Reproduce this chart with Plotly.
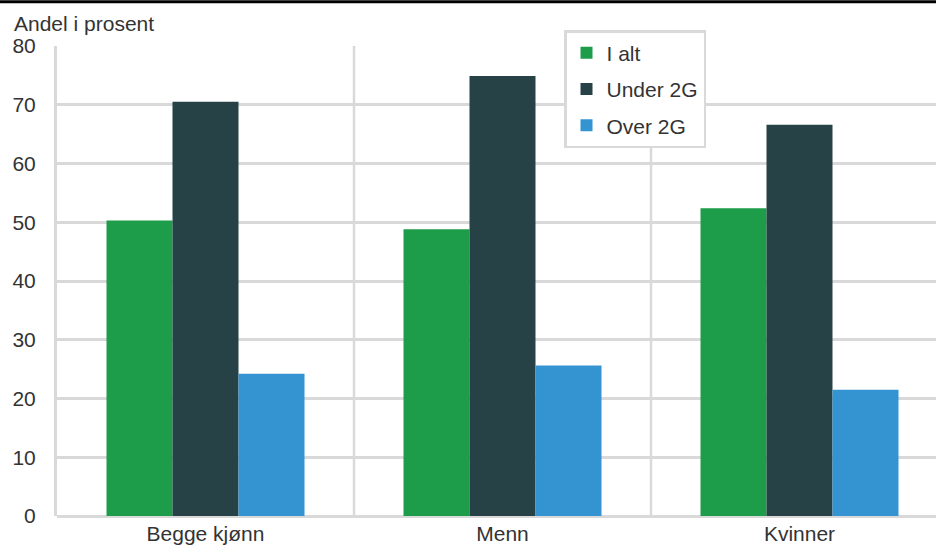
import plotly.graph_objects as go

categories = ["Begge kjønn", "Menn", "Kvinner"]
i_alt = [50.3, 48.8, 52.4]
under_2g = [70.5, 74.9, 66.6]
over_2g = [24.2, 25.6, 21.5]
series_names = ["I alt", "Under 2G", "Over 2G"]
colors = ["#1d9d4a", "#274247", "#3494d1"]

W, H = 936, 545
ml, mr, mt, mb = 57, 0, 46, 27
pw, ph = W - ml - mr, H - mt - mb
FS = 21

fig = go.Figure()
for name, vals, col in zip(series_names, [i_alt, under_2g, over_2g], colors):
    fig.add_trace(go.Bar(x=list(range(len(categories))), y=vals, name=name,
                         marker=dict(color=col, line=dict(width=0)),
                         legendgroup=name))

unit_px = 297.0
xmax = -0.5 + pw / unit_px

shapes = []
for xb in [0.5, 1.5]:
    shapes.append(dict(type="line", xref="x", yref="paper", x0=xb, x1=xb, y0=0, y1=1,
                       line=dict(color="#d9d9d9", width=2.5), layer="below"))
def py(p):
    return (H - mb - p) / ph
shapes.append(dict(type="rect", xref="paper", yref="paper", x0=-ml / pw, x1=1,
                   y0=py(3), y1=py(0), fillcolor="#000000", line=dict(width=0)))

fig.update_layout(
    width=W, height=H,
    margin=dict(l=ml, r=mr, t=mt, b=mb, pad=0),
    paper_bgcolor="white", plot_bgcolor="white",
    barmode="group", bargap=1/3, bargroupgap=0,
    font=dict(family="Liberation Sans, Arial, sans-serif", size=FS, color="#333333"),
    xaxis=dict(range=[-0.5, xmax], tickvals=list(range(len(categories))), ticktext=categories,
               showgrid=False, zeroline=False, showline=False, ticks="",
               ticklabelstandoff=3, fixedrange=True),
    yaxis=dict(range=[0, 80], dtick=10, showgrid=True, gridcolor="#d9d9d9", gridwidth=2.5,
               zeroline=True, zerolinecolor="#d9d9d9", zerolinewidth=3,
               showline=True, linecolor="#d9d9d9", linewidth=3, ticks="",
               ticklabelstandoff=14, fixedrange=True),
    legend=dict(x=(564 - ml) / pw, y=py(30), xanchor="left", yanchor="top",
                bgcolor="white", bordercolor="#d9d9d9", borderwidth=2.5,
                font=dict(size=FS, color="#333333"), tracegroupgap=6,
                itemwidth=30),
    annotations=[dict(text="Andel i prosent", xref="paper", yref="paper",
                      x=-(ml - 12) / pw, y=py(23), xanchor="left", yanchor="middle",
                      showarrow=False, font=dict(size=FS, color="#333333"))],
    shapes=shapes,
    showlegend=True,
)

fig.write_html("out.html", config={"displayModeBar": False},
               post_script="document.body.style.margin='0';document.body.style.overflow='hidden';")
